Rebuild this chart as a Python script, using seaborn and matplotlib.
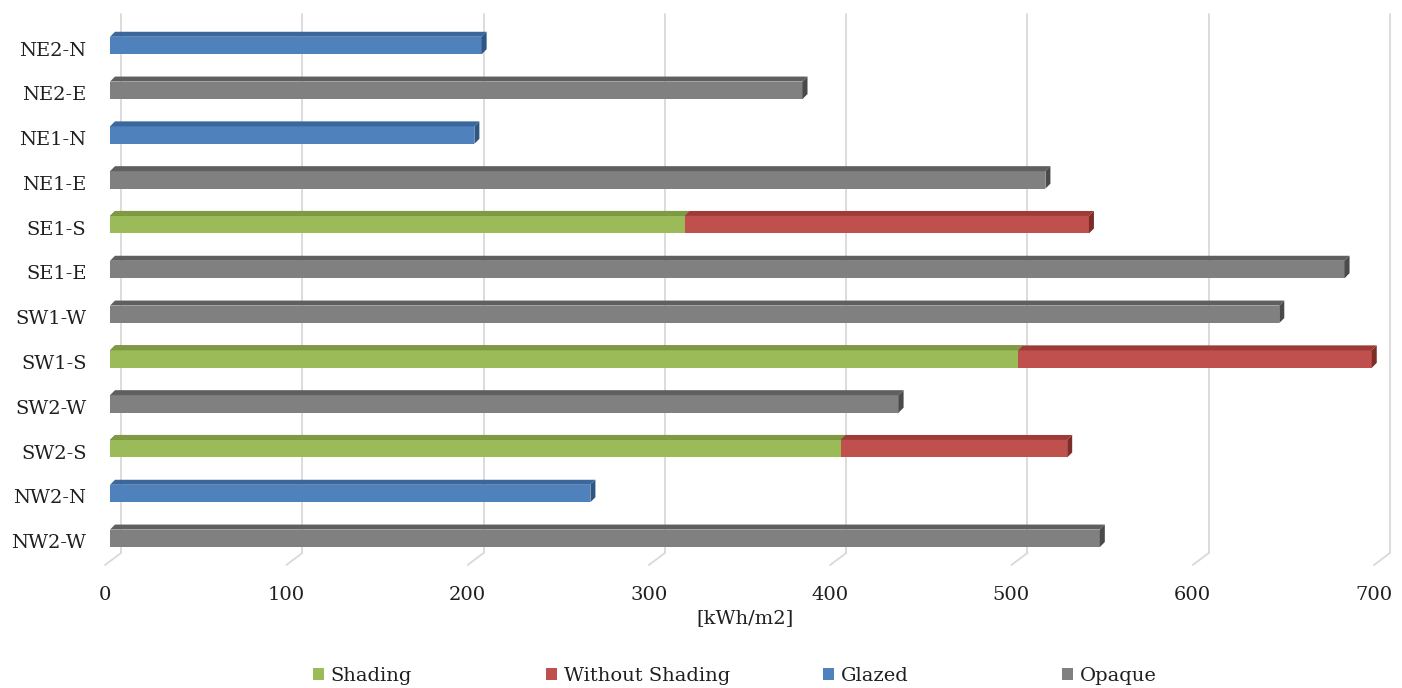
import numpy as np
import pandas as pd
import matplotlib
matplotlib.use("Agg")
import matplotlib.pyplot as plt
from matplotlib.patches import Polygon, Patch
import matplotlib.transforms as mtransforms
import seaborn as sns

# ---- data -------------------------------------------------------------
categories = ["NE2-N", "NE2-E", "NE1-N", "NE1-E", "SE1-S", "SE1-E",
              "SW1-W", "SW1-S", "SW2-W", "SW2-S", "NW2-N", "NW2-W"]

stacked_cats = ["SE1-S", "SW1-S", "SW2-S"]
shading = [317, 501, 403]
without_shading = [223, 195, 125]   # added on top of the shaded value

glazed_cats = ["NE2-N", "NE1-N", "NW2-N"]
glazed = [205, 201, 265]

opaque_cats = ["NE2-E", "NE1-E", "SE1-E", "SW1-W", "SW2-W", "NW2-W"]
opaque = [382, 516, 681, 645, 435, 546]

xticks = [0, 100, 200, 300, 400, 500, 600, 700]
xlabel = "[kWh/m2]"
series_names = ["Shading", "Without Shading", "Glazed", "Opaque"]

# front / top / side shades of each series
palette = {
    "Shading":         ("#9BBB59", "#7E9B43", "#6A8535"),
    "Without Shading": ("#C0504D", "#9E3A37", "#7E2C2A"),
    "Glazed":          ("#4F81BD", "#3B679C", "#2F5683"),
    "Opaque":          ("#808080", "#5F5F5F", "#4A4A4A"),
}

# ---- layout -------------------------------------------------------------
W, H, DPI = 1402, 688, 100
sns.set_theme(style="white")
plt.rcParams["font.family"] = ["DejaVu Serif"]
text_color = "#1F1F1F"
fs = 14

fig = plt.figure(figsize=(W / DPI, H / DPI), dpi=DPI)
ax_left_px, ax_right_px = 110, 1379
ax_top_px, ax_bot_px = 14, 565
ax = fig.add_axes([ax_left_px / W, 1 - ax_bot_px / H,
                   (ax_right_px - ax_left_px) / W, (ax_bot_px - ax_top_px) / H])

xmax = 700
row_px = 44.8
first_row_px = 45.5
y_top = -(first_row_px - ax_top_px) / row_px
y_bot = y_top + (ax_bot_px - ax_top_px) / row_px
ax.set_xlim(0, xmax)

px_x = xmax / (ax_right_px - ax_left_px)   # data units per pixel (x)
px_y = 1.0 / row_px                        # data units per pixel (y)

# ---- floor and back-wall grid -------------------------------------------
grid_c = "#D9D9D9"
for t in xticks:
    xf = t - 5 * px_x
    xb = t + 11 * px_x
    ax.plot([xf, xb], [y_bot, y_bot - 12 * px_y], color=grid_c, lw=1.3,
            clip_on=False, zorder=0.5)
    ax.plot([xb, xb], [y_bot - 12 * px_y, y_top], color=grid_c, lw=1.3,
            clip_on=False, zorder=0.5)

# ---- bars ---------------------------------------------------------------
def draw_series(cats, vals, name, side=True):
    df = pd.DataFrame({"category": cats, "value": vals})
    before = len(ax.patches)
    sns.barplot(data=df, y="category", x="value", order=categories,
                orient="h", color=palette[name][0], saturation=1,
                width=0.39, ax=ax, zorder=2)
    new = ax.patches[before:]
    front, top, sidec = palette[name]
    ddx, ddy = 5 * px_x, 5 * px_y
    for p in new:
        p.set_facecolor(front)
        p.set_edgecolor("none")
        x0, w = p.get_x(), p.get_width()
        yt, h = p.get_y(), p.get_height()
        if not np.isfinite(w) or w == 0:
            continue
        top_face = Polygon([(x0, yt), (x0 + w, yt), (x0 + w + ddx, yt - ddy),
                            (x0 + ddx, yt - ddy)], closed=True,
                           facecolor=top, edgecolor="none", zorder=2)
        ax.add_patch(top_face)
        if side:
            side_face = Polygon([(x0 + w, yt), (x0 + w + ddx, yt - ddy),
                                 (x0 + w + ddx, yt + h - ddy), (x0 + w, yt + h)],
                                closed=True, facecolor=sidec, edgecolor="none",
                                zorder=2)
            ax.add_patch(side_face)

totals = [s + u for s, u in zip(shading, without_shading)]
draw_series(stacked_cats, totals, "Without Shading")
draw_series(stacked_cats, shading, "Shading", side=False)
draw_series(glazed_cats, glazed, "Glazed")
draw_series(opaque_cats, opaque, "Opaque")

ax.set_ylim(y_bot, y_top)

# ---- axes cosmetics -----------------------------------------------------
for s in ax.spines.values():
    s.set_visible(False)
ax.grid(False)
ax.set_xticks(xticks)
ax.set_xticklabels([str(t) for t in xticks])
ax.tick_params(axis="x", length=0, pad=15, labelsize=fs, labelcolor=text_color)
ax.tick_params(axis="y", length=0, pad=17, labelsize=fs, labelcolor=text_color)
ax.set_ylabel("")
ax.set_xlabel(xlabel, fontsize=fs, color=text_color, labelpad=4)

shift_x = mtransforms.ScaledTranslation(-5 / DPI, 0, fig.dpi_scale_trans)
for lab in ax.get_xticklabels():
    lab.set_transform(lab.get_transform() + shift_x)
shift_y = mtransforms.ScaledTranslation(0, -3 / DPI, fig.dpi_scale_trans)
for lab in ax.get_yticklabels():
    lab.set_transform(lab.get_transform() + shift_y)

# legend entries laid out along the bottom edge
legend_x_px = [313, 546, 823, 1062]
for name, lx in zip(series_names, legend_x_px):
    h = Patch(facecolor=palette[name][0], edgecolor="none", label=name)
    fig.legend(handles=[h], loc="center left",
               bbox_to_anchor=(lx / W, 1 - 676 / H), frameon=False,
               fontsize=fs, handlelength=0.55, handleheight=0.55,
               handletextpad=0.35, borderpad=0, borderaxespad=0,
               labelcolor=text_color)

fig.savefig("out.png", dpi=DPI)
